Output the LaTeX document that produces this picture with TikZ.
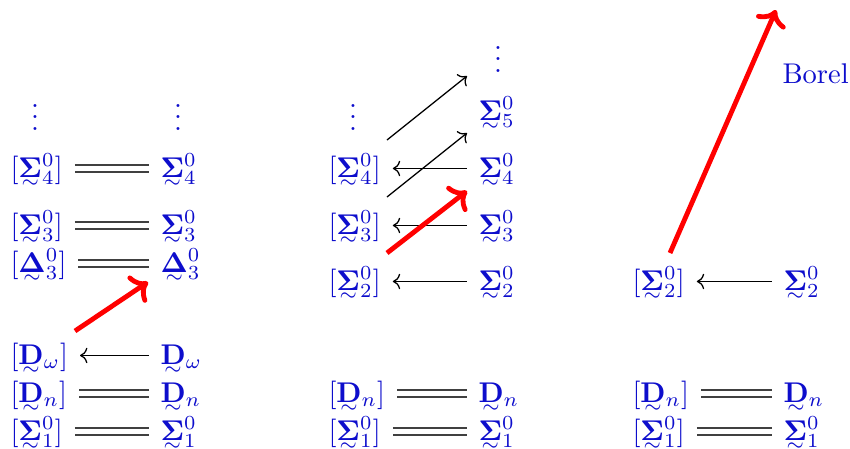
\documentclass[tikz,border=0pt]{standalone}
\usepackage{amsmath}
\usetikzlibrary{arrows.meta}
\definecolor{mb}{rgb}{0.05,0.05,0.8}
\newcommand\utl[1]{\smash[b]{\vtop{\offinterlineskip\halign{\hfil##\hfil\cr$\mathbf{#1}$\cr\noalign{\kern1.1pt}$\scriptstyle\sim$\cr}}}}
\tikzset{
  lab/.style={inner sep=0pt, text height=10pt, text depth=4pt, text=mb, anchor=base west},
  dts/.style={inner sep=0pt, text=mb, anchor=base},
  eq/.style={draw=black!75, line width=0.45pt, double=white, double distance=2pt, shorten <=4pt, shorten >=4pt},
  arr/.style={draw=black, line width=0.45pt, ->, shorten <=4pt, shorten >=4pt},
  rarr/.style={draw=red, line width=1.7pt, ->},
}
\begin{document}
\begin{tikzpicture}[x=0.3509pt, y=-0.3509pt]
\useasboundingbox (0,0) rectangle (850,449);
% column 1
\node[dts] (l1d) at (35,130) {$\vdots$};
\node[dts] (r1d) at (178,130) {$\vdots$};
\node[lab] (l14) at (10,177) {$[\utl{\Sigma}^0_4]$};
\node[lab] (r14) at (160,177) {$\utl{\Sigma}^0_4$};
\node[lab] (l13) at (10,234) {$[\utl{\Sigma}^0_3]$};
\node[lab] (r13) at (160,234) {$\utl{\Sigma}^0_3$};
\node[lab] (l1D) at (10,272) {$[\utl{\Delta}^0_3]$};
\node[lab] (r1D) at (160,272) {$\utl{\Delta}^0_3$};
\node[lab] (l1w) at (10,364) {$[\utl{D}_\omega]$};
\node[lab] (r1w) at (160,364) {$\utl{D}_\omega$};
\node[lab] (l1n) at (10,402) {$[\utl{D}_n]$};
\node[lab] (r1n) at (160,402) {$\utl{D}_n$};
\node[lab] (l11) at (10,440) {$[\utl{\Sigma}^0_1]$};
\node[lab] (r11) at (160,440) {$\utl{\Sigma}^0_1$};
\draw[eq] (l14) -- (r14);
\draw[eq] (l13) -- (r13);
\draw[eq] (l1D) -- (r1D);
\draw[arr] (r1w) -- (l1w);
\draw[eq] (l1n) -- (r1n);
\draw[eq] (l11) -- (r11);
\coordinate (c1a) at (75,331);
\coordinate (c1b) at (148,282);
\draw[rarr] (c1a) -- (c1b);
% column 2
\node[dts] (l2d) at (353,130) {$\vdots$};
\node[dts] (r2d) at (498,72) {$\vdots$};
\node[lab] (r25) at (478,120) {$\utl{\Sigma}^0_5$};
\node[lab] (l24) at (328,177) {$[\utl{\Sigma}^0_4]$};
\node[lab] (r24) at (478,177) {$\utl{\Sigma}^0_4$};
\node[lab] (l23) at (328,234) {$[\utl{\Sigma}^0_3]$};
\node[lab] (r23) at (478,234) {$\utl{\Sigma}^0_3$};
\node[lab] (l22) at (328,290) {$[\utl{\Sigma}^0_2]$};
\node[lab] (r22) at (478,290) {$\utl{\Sigma}^0_2$};
\node[lab] (l2n) at (328,402) {$[\utl{D}_n]$};
\node[lab] (r2n) at (478,402) {$\utl{D}_n$};
\node[lab] (l21) at (328,440) {$[\utl{\Sigma}^0_1]$};
\node[lab] (r21) at (478,440) {$\utl{\Sigma}^0_1$};
\draw[arr] (r24) -- (l24);
\draw[arr] (r23) -- (l23);
\draw[arr] (r22) -- (l22);
\draw[eq] (l2n) -- (r2n);
\draw[eq] (l21) -- (r21);
\coordinate (c2a) at (387,140);
\coordinate (c2b) at (467,76);
\coordinate (c2c) at (387,197);
\coordinate (c2d) at (467,133);
\coordinate (c2e) at (387,253);
\coordinate (c2f) at (467,191);
\draw[arr, shorten <=0pt, shorten >=0pt] (c2a) -- (c2b);
\draw[arr, shorten <=0pt, shorten >=0pt] (c2c) -- (c2d);
\draw[rarr] (c2e) -- (c2f);
% column 3
\node[lab] (l32) at (632,290) {$[\utl{\Sigma}^0_2]$};
\node[lab] (r32) at (783,290) {$\utl{\Sigma}^0_2$};
\node[lab] (l3n) at (632,402) {$[\utl{D}_n]$};
\node[lab] (r3n) at (783,402) {$\utl{D}_n$};
\node[lab] (l31) at (632,440) {$[\utl{\Sigma}^0_1]$};
\node[lab] (r31) at (783,440) {$\utl{\Sigma}^0_1$};
\node[inner sep=0pt, text=mb, anchor=base west] (borel) at (782,83) {Borel};
\draw[arr] (r32) -- (l32);
\draw[eq] (l3n) -- (r3n);
\draw[eq] (l31) -- (r31);
\coordinate (c3a) at (670,253);
\coordinate (c3b) at (776,10);
\draw[rarr] (c3a) -- (c3b);
\end{tikzpicture}
\end{document}
